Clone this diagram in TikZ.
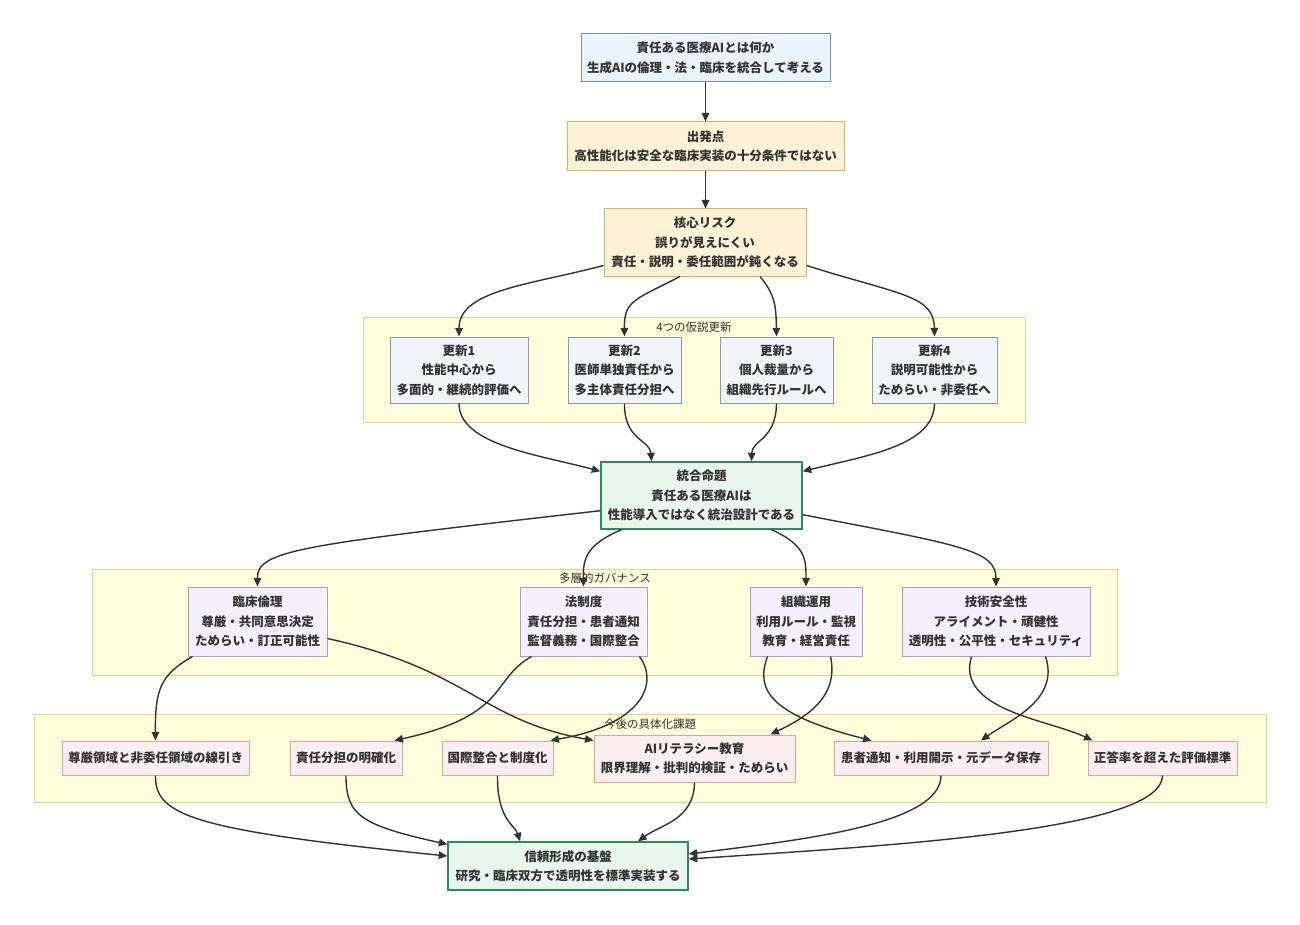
\documentclass[tikz,border=0pt]{standalone}
\usepackage{fontspec}
\setmainfont{Noto Sans CJK JP}
\usetikzlibrary{arrows.meta,calc}

\definecolor{ink}{HTML}{333333}
\definecolor{titlefill}{HTML}{EAF4FE}
\definecolor{titledraw}{HTML}{7A8FB0}
\definecolor{startfill}{HTML}{FFF2D6}
\definecolor{startdraw}{HTML}{E0B060}
\definecolor{updfill}{HTML}{F1F5F9}
\definecolor{upddraw}{HTML}{8E9AA8}
\definecolor{thesisfill}{HTML}{E8F6EE}
\definecolor{thesisdraw}{HTML}{2E8B57}
\definecolor{govfill}{HTML}{F4F0FD}
\definecolor{govdraw}{HTML}{B59ACF}
\definecolor{taskfill}{HTML}{FDEFEF}
\definecolor{taskdraw}{HTML}{E2A3A3}
\definecolor{clusterfill}{HTML}{FFFFDE}
\definecolor{clusterdraw}{HTML}{D8D890}

\tikzset{
  box/.style={draw, line width=1pt, align=center, inner sep=0pt, text=ink,
    font=\fontsize{12.5}{19.5}\selectfont\bfseries},
  titlebox/.style={box, fill=titlefill, draw=titledraw},
  startbox/.style={box, fill=startfill, draw=startdraw},
  updbox/.style={box, fill=updfill, draw=upddraw, minimum height=66pt},
  thesisbox/.style={box, fill=thesisfill, draw=thesisdraw, line width=1.4pt},
  govbox/.style={box, fill=govfill, draw=govdraw, minimum height=69pt},
  taskbox/.style={box, fill=taskfill, draw=taskdraw, minimum height=34pt},
  cluster/.style={draw=clusterdraw, fill=clusterfill, line width=1pt, inner sep=0pt},
  clusterlabel/.style={text=ink, font=\fontsize{11.5}{13}\selectfont},
  arr/.style={draw=ink, line width=1.4pt, -{Triangle[length=8.5pt,width=7.5pt]}}
}

\begin{document}
\begin{tikzpicture}[x=1pt,y=-1pt]
  \useasboundingbox[fill=white] (0,0) rectangle (1300,925);

  \node[cluster, minimum width=662pt, minimum height=105pt] (hypo) at (694,369.5) {};
  \node[clusterlabel] (hypolabel) at (694,327) {4つの仮説更新};
  \node[cluster, minimum width=1025pt, minimum height=106pt] (gov) at (604.5,622) {};
  \node[clusterlabel] (govlabel) at (605,578) {多層的ガバナンス};
  \node[cluster, minimum width=1232pt, minimum height=88pt] (tasks) at (650,758) {};
  \node[clusterlabel] (taskslabel) at (650,724) {今後の具体化課題};

  \node[titlebox, minimum width=249pt, minimum height=48pt] (title) at (705.5,58)
    {責任ある医療AIとは何か\\生成AIの倫理・法・臨床を統合して考える};
  \node[startbox, minimum width=277pt, minimum height=49pt] (start) at (705.5,146.5)
    {出発点\\高性能化は安全な臨床実装の十分条件ではない};
  \node[startbox, minimum width=202pt, minimum height=67pt] (risk) at (705,242.5)
    {核心リスク\\誤りが見えにくい\\責任・説明・委任範囲が鈍くなる};

  \node[updbox, minimum width=138pt] (upd1) at (459,370) {更新1\\性能中心から\\多面的・継続的評価へ};
  \node[updbox, minimum width=113pt] (upd2) at (624.5,370) {更新2\\医師単独責任から\\多主体責任分担へ};
  \node[updbox, minimum width=113pt] (upd3) at (776.5,370) {更新3\\個人裁量から\\組織先行ルールへ};
  \node[updbox, minimum width=125pt] (upd4) at (934.5,370) {更新4\\説明可能性から\\ためらい・非委任へ};

  \node[thesisbox, minimum width=201pt, minimum height=67pt] (thesis) at (701.5,495.5)
    {統合命題\\責任ある医療AIは\\性能導入ではなく統治設計である};

  \node[govbox, minimum width=139pt] (ethics) at (257.5,621.5) {臨床倫理\\尊厳・共同意思決定\\ためらい・訂正可能性};
  \node[govbox, minimum width=127pt] (law) at (583.5,621.5) {法制度\\責任分担・患者通知\\監督義務・国際整合};
  \node[govbox, minimum width=112pt] (org) at (806,621.5) {組織運用\\利用ルール・監視\\教育・経営責任};
  \node[govbox, minimum width=188pt] (tech) at (996,621.5) {技術安全性\\アライメント・頑健性\\透明性・公平性・セキュリティ};

  \node[taskbox, minimum width=187pt] (dignity) at (155.5,758) {尊厳領域と非委任領域の線引き};
  \node[taskbox, minimum width=112pt] (share) at (346,758) {責任分担の明確化};
  \node[taskbox, minimum width=111pt] (intl) at (497.5,758) {国際整合と制度化};
  \node[taskbox, minimum width=201pt, minimum height=47pt] (literacy) at (694.5,758.5) {AIリテラシー教育\\限界理解・批判的検証・ためらい};
  \node[taskbox, minimum width=214pt] (notice) at (941,758) {患者通知・利用開示・元データ保存};
  \node[taskbox, minimum width=149pt] (metric) at (1162.5,758) {正答率を超えた評価標準};

  \node[thesisbox, minimum width=240pt, minimum height=48pt] (trust) at (568,866)
    {信頼形成の基盤\\研究・臨床双方で透明性を標準実装する};

  \draw[arr] (title) -- (start);
  \draw[arr] (start.south) -- (start.south |- risk.north);

  \draw[arr] ($(risk.south west)+(0,-11)$) .. controls (530,285) and (459,290) .. (upd1.north);
  \draw[arr] ($(risk.south)+(-25,0)$) .. controls (635,300) and (624,300) .. (upd2.north);
  \draw[arr] ($(risk.south)+(55,0)$) .. controls (775,295) and (776,305) .. (upd3.north);
  \draw[arr] ($(risk.south east)+(0,-11)$) .. controls (900,295) and (934,295) .. (upd4.north);

  \draw[arr] (upd1.south) .. controls (459,445) and (540,455) .. ($(thesis.north west)+(0,10)$);
  \draw[arr] (upd2.south) .. controls (624,440) and (650,440) .. ($(thesis.north)+(-50,0)$);
  \draw[arr] (upd3.south) .. controls (776,440) and (752,440) .. ($(thesis.north)+(50,0)$);
  \draw[arr] (upd4.south) .. controls (934,445) and (870,455) .. ($(thesis.north east)+(0,10)$);

  \draw[arr] ($(thesis.south west)+(0,-19)$) .. controls (300,545) and (257,550) .. (ethics.north);
  \draw[arr] ($(thesis.south)+(-80,0)$) .. controls (585,545) and (583,560) .. (law.north);
  \draw[arr] ($(thesis.south)+(70,0)$) .. controls (806,545) and (806,560) .. (org.north);
  \draw[arr] ($(thesis.south east)+(0,-15)$) .. controls (960,545) and (996,550) .. (tech.north);

  \draw[arr] ($(ethics.south west)+(5,0)$) .. controls (160,675) and (155,690) .. (dignity.north);
  \draw[arr] ($(ethics.east)+(0,17)$) .. controls (470,670) and (480,720) .. ($(literacy.north west)+(0,6)$);
  \draw[arr] ($(law.south west)+(12,0)$) .. controls (490,680) and (510,715) .. ($(share.north east)+(-8,0)$);
  \draw[arr] ($(law.south east)+(-8,0)$) .. controls (660,685) and (640,725) .. ($(intl.north east)+(-3,0)$);
  \draw[arr] ($(org.south west)+(18,0)$) .. controls (755,690) and (770,715) .. ($(notice.north west)+(38,0)$);
  \draw[arr] ($(org.south east)+(-32,0)$) .. controls (840,700) and (800,720) .. ($(literacy.north east)+(-25,0)$);
  \draw[arr] ($(tech.south west)+(70,0)$) .. controls (955,710) and (1050,720) .. ($(metric.north west)+(5,0)$);
  \draw[arr] ($(tech.south east)+(-45,0)$) .. controls (1060,700) and (1010,720) .. ($(notice.north)+(40,0)$);

  \draw[arr] (dignity.south) .. controls (155,815) and (190,830) .. ($(trust.west)+(0,-10)$);
  \draw[arr] (share.south) .. controls (346,815) and (360,825) .. ($(trust.north west)+(0,3)$);
  \draw[arr] (intl.south) .. controls (497,820) and (515,825) .. ($(trust.north)+(-48,0)$);
  \draw[arr] (literacy.south) .. controls (694,820) and (660,825) .. ($(trust.north)+(70,0)$);
  \draw[arr] (notice.south) .. controls (941,825) and (800,840) .. ($(trust.east)+(0,-12)$);
  \draw[arr] (metric.south) .. controls (1162,830) and (900,845) .. ($(trust.east)+(0,-7)$);
\end{tikzpicture}
\end{document}
